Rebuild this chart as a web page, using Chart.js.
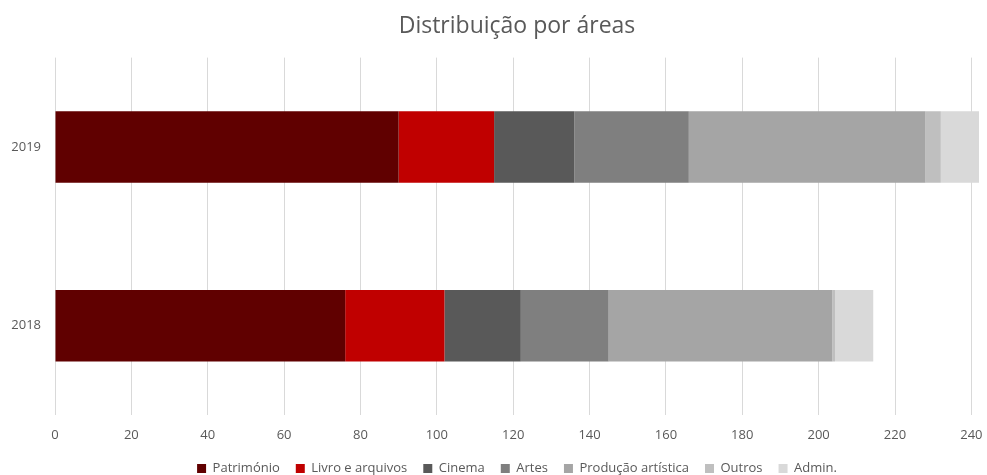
<!DOCTYPE html>
<html>
<head>
<meta charset="utf-8">
<script src="https://cdn.jsdelivr.net/npm/chart.js@4.4.0/dist/chart.umd.min.js"></script>
<style>
  body { margin: 0; background: #fff; }
  #wrap { width: 987px; height: 475px; }
</style>
</head>
<body>
<div id="wrap"><canvas id="myChart" width="987" height="475"></canvas></div>
<script>
const labels = ['2019', '2018'];

const patrimonio = [90, 76];
const livro = [25, 26];
const cinema = [21, 20];
const artes = [30, 23];
const producao = [62, 58.6];
const outros = [4, 0.7];
const admin = [10, 10];

const xTicks = [0, 20, 40, 60, 80, 100, 120, 140, 160, 180, 200, 220, 240];

const seriesNames = ['Património', 'Livro e arquivos', 'Cinema', 'Artes', 'Produção artística', 'Outros', 'Admin.'];
const seriesColors = ['#600000', '#C00000', '#595959', '#7F7F7F', '#A5A5A5', '#BFBFBF', '#D9D9D9'];
const seriesData = [patrimonio, livro, cinema, artes, producao, outros, admin];

const data = {
  labels: labels,
  datasets: seriesNames.map(function (name, i) {
    return {
      label: name,
      data: seriesData[i],
      backgroundColor: seriesColors[i],
      borderWidth: 0,
      categoryPercentage: 1,
      barPercentage: 0.4
    };
  })
};

// fixed legend height so the legend row sits near the bottom edge
const legendFit = {
  id: 'legendFit',
  beforeInit: function (chart) {
    const orig = chart.legend.fit;
    chart.legend.fit = function () {
      orig.bind(chart.legend)();
      this.height = 29;
    };
  }
};

const config = {
  type: 'bar',
  data: data,
  plugins: [legendFit],
  options: {
    indexAxis: 'y',
    responsive: false,
    animation: false,
    layout: { padding: { left: 10, right: 8, top: 5, bottom: 0 } },
    plugins: {
      title: {
        display: true,
        fullSize: false,
        text: 'Distribuição por áreas',
        color: '#595959',
        font: { family: 'Open Sans', size: 23, weight: 'normal' },
        padding: { top: 8, bottom: 17 }
      },
      legend: {
        position: 'bottom',
        fullSize: false,
        labels: {
          color: '#595959',
          font: { family: 'Open Sans', size: 13 },
          boxWidth: 9,
          boxHeight: 9,
          padding: 16
        }
      },
      tooltip: { enabled: false }
    },
    scales: {
      x: {
        stacked: true,
        min: 0,
        max: 242,
        afterBuildTicks: function (axis) {
          axis.ticks = xTicks.map(function (v) { return { value: v }; });
        },
        afterFit: function (axis) {
          axis.height = 31;
          axis.paddingRight = 0;
        },
        grid: { color: '#D9D9D9', drawTicks: false },
        border: { display: false },
        ticks: {
          color: '#595959',
          font: { family: 'Open Sans', size: 13 },
          padding: 12
        }
      },
      y: {
        stacked: true,
        afterFit: function (axis) { axis.width = 45; },
        grid: { display: false, drawTicks: false },
        border: { display: false },
        ticks: {
          color: '#595959',
          font: { family: 'Open Sans', size: 13 },
          padding: 14
        }
      }
    }
  }
};

const myChart = new Chart(document.getElementById('myChart').getContext('2d'), config);
</script>
</body>
</html>
